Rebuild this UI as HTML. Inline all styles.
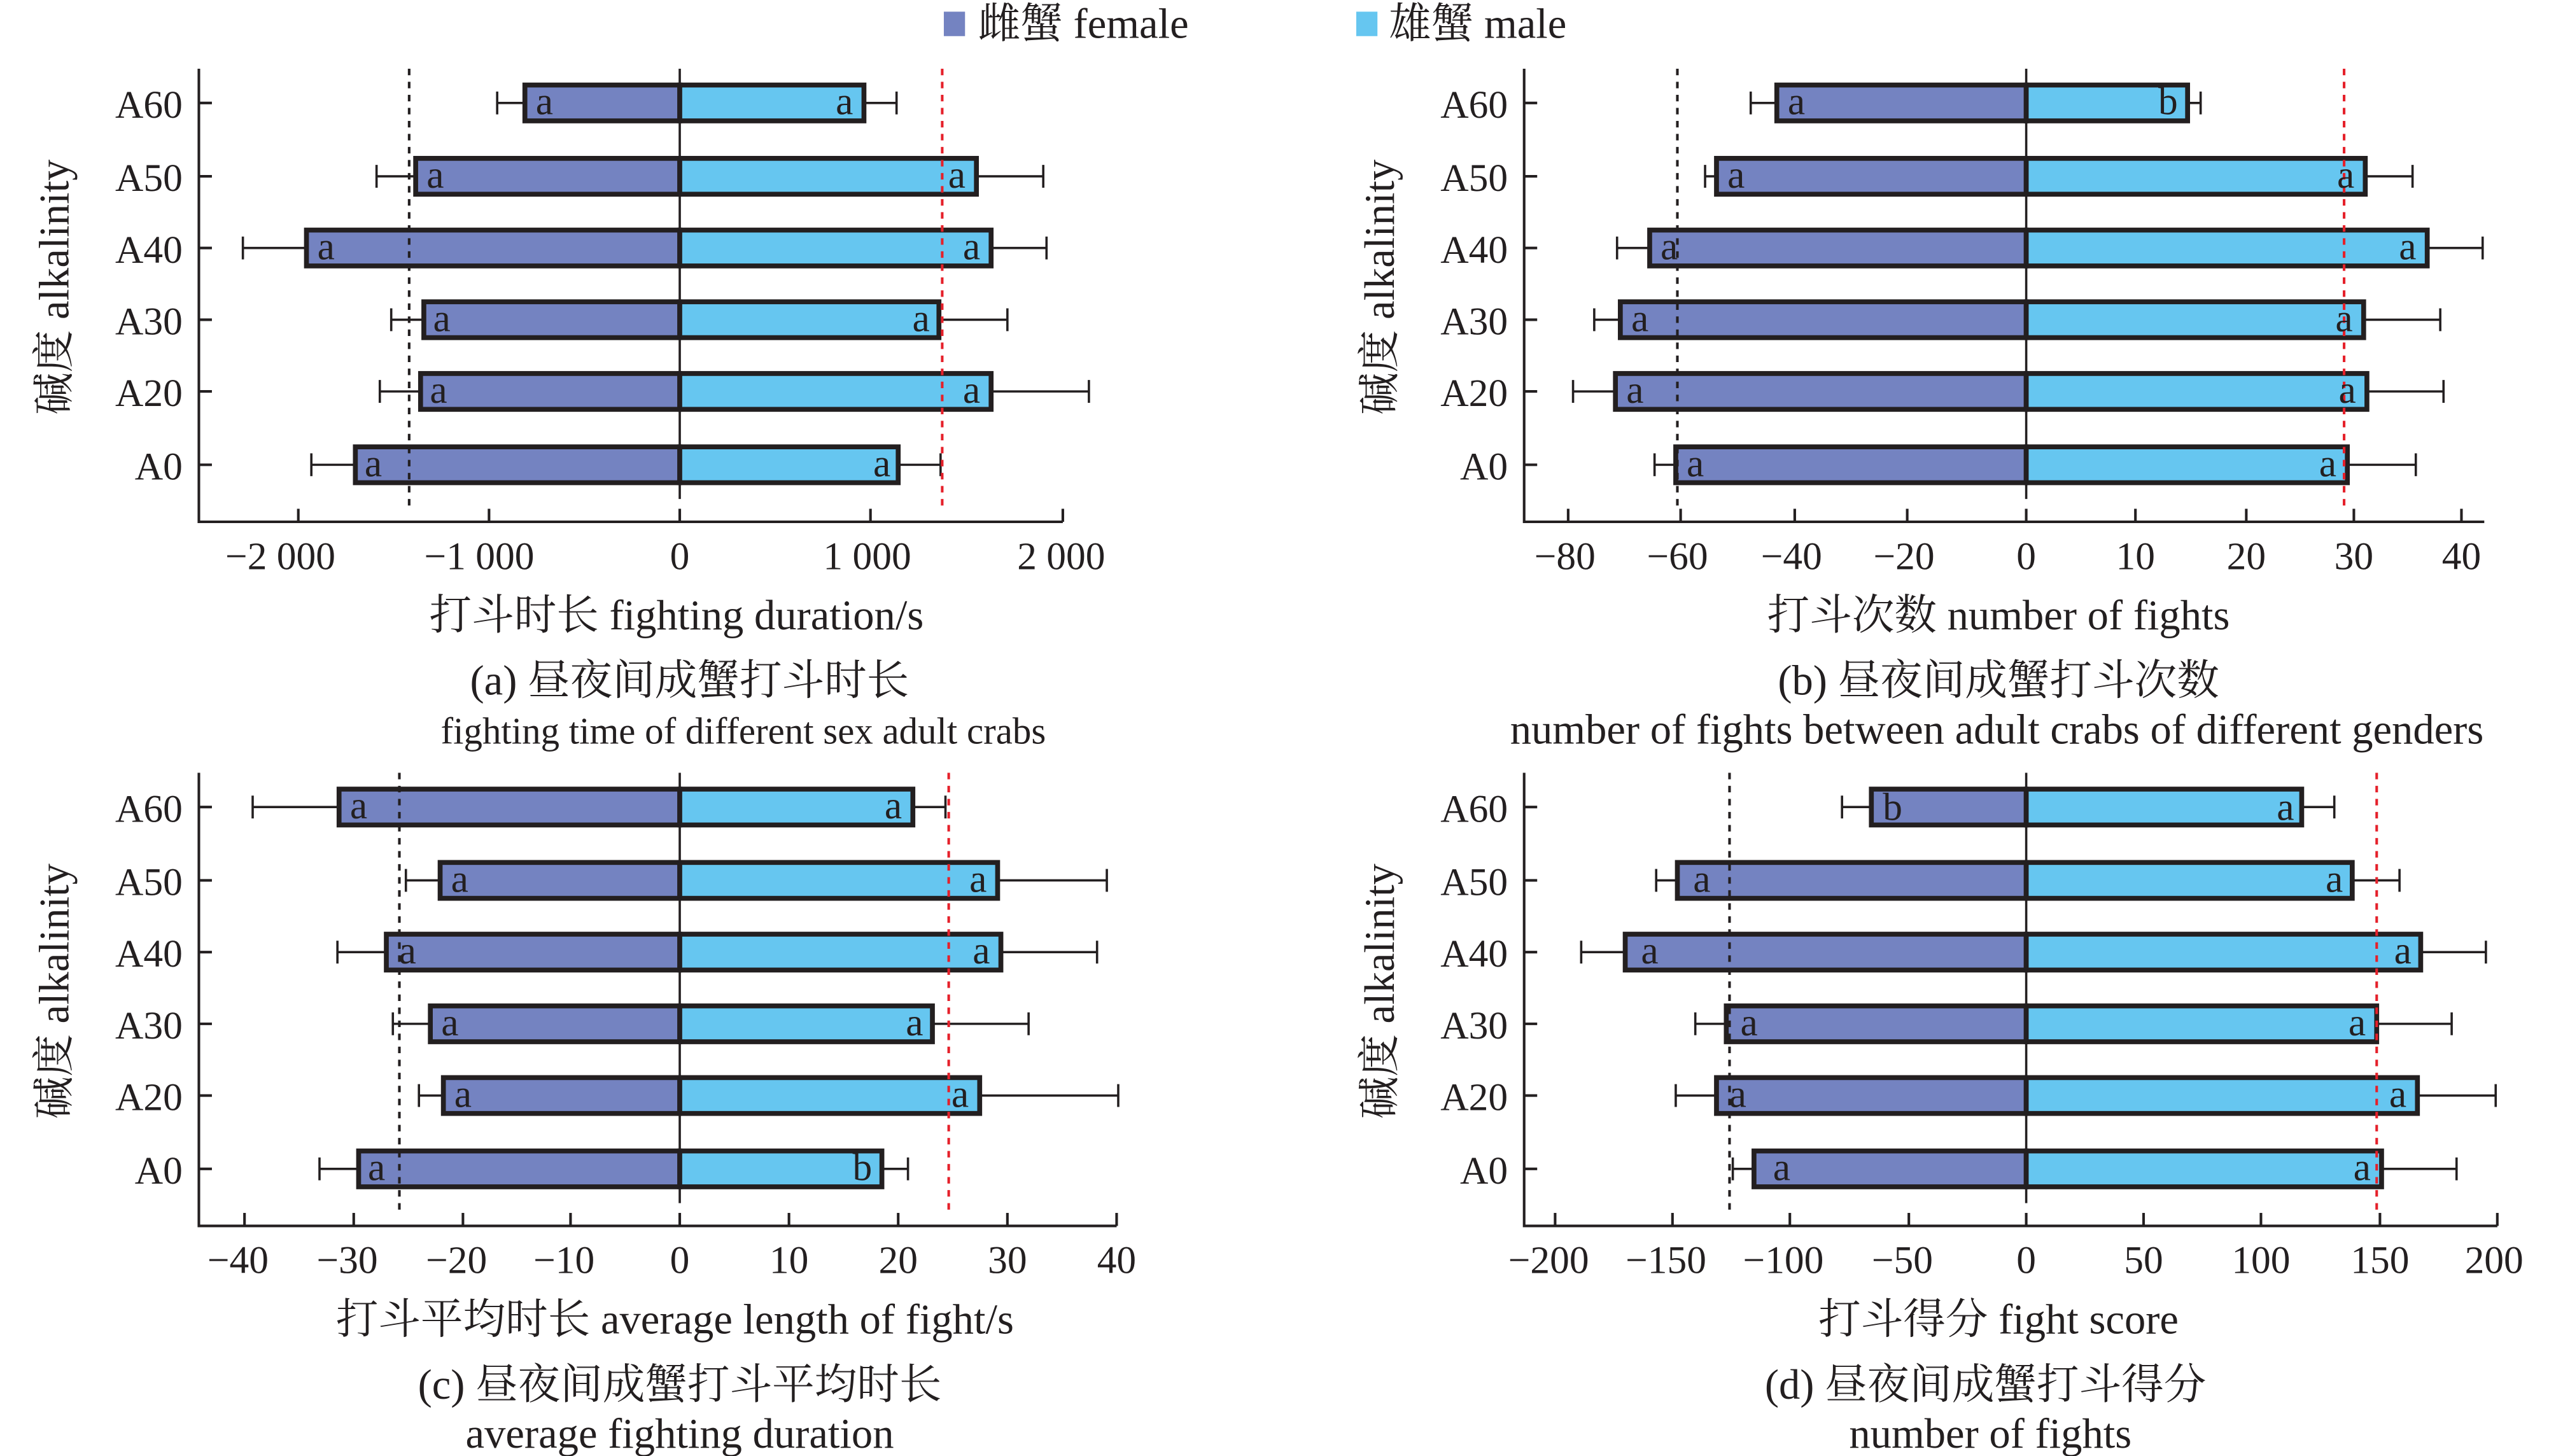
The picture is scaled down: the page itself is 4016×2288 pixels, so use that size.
<!DOCTYPE html>
<html><head><meta charset="utf-8"><style>
html,body{margin:0;padding:0;background:#fff;}
svg{display:block}
text{font-family:"Liberation Serif","Noto Serif CJK SC",serif;fill:#231f20}
.t{font-size:26px}
.n{font-size:24px}
.l{font-size:24px}
.f{fill:#7483c1;stroke:#231f20;stroke-width:3}
.m{fill:#66c6f0;stroke:#231f20;stroke-width:3}
.ax{stroke:#231f20;stroke-width:1.6;fill:none}
.e{stroke:#231f20;stroke-width:1.4;fill:none}
.bd{stroke:#231f20;stroke-width:1.6;stroke-dasharray:4,4}
.rd{stroke:#e5202a;stroke-width:1.6;stroke-dasharray:4,4}
</style></head><body>
<svg width="4016" height="2288" viewBox="0 0 1568 893" xmlns="http://www.w3.org/2000/svg">
<rect x="579" y="7" width="13" height="15" fill="#7483c1"/>
<text x="600" y="23" class="t">雌蟹 female</text>
<rect x="832" y="7" width="13" height="15" fill="#66c6f0"/>
<text x="852" y="23" class="t">雄蟹 male</text>

<!-- ===== Panel a ===== -->
<g>
<path class="ax" d="M122,42 V320 H652"/>
<path class="ax" d="M122,63 h8 M122,108 h8 M122,152 h8 M122,196 h8 M122,240 h8 M122,285 h8"/>
<path class="ax" d="M183,320 v-8 M300,320 v-8 M417,320 v-8 M534,320 v-8 M652,320 v-8"/>
<g class="n" text-anchor="end">
<text x="112" y="72">A60</text><text x="112" y="117">A50</text><text x="112" y="161">A40</text><text x="112" y="205">A30</text><text x="112" y="249">A20</text><text x="112" y="294">A0</text>
</g>
<g class="n" text-anchor="middle">
<text x="172" y="349">−2 000</text><text x="294" y="349">−1 000</text><text x="417" y="349">0</text><text x="532" y="349">1 000</text><text x="651" y="349">2 000</text>
</g>
<g class="e">
<path d="M305,63 H322 M305,56 v14 M530,63 H550 M550,56 v14"/>
<path d="M231,108 H255 M231,101 v14 M599,108 H640 M640,101 v14"/>
<path d="M149,152 H188 M149,145 v14 M608,152 H642 M642,145 v14"/>
<path d="M240,196 H260 M240,189 v14 M576,196 H618 M618,189 v14"/>
<path d="M233,240 H258 M233,233 v14 M608,240 H668 M668,233 v14"/>
<path d="M191,285 H218 M191,278 v14 M551,285 H577 M577,278 v14"/>
</g>
<rect class="f" x="322" y="52" width="95" height="22"/><rect class="m" x="417" y="52" width="113" height="22"/>
<rect class="f" x="255" y="97" width="162" height="22"/><rect class="m" x="417" y="97" width="182" height="22"/>
<rect class="f" x="188" y="141" width="229" height="22"/><rect class="m" x="417" y="141" width="191" height="22"/>
<rect class="f" x="260" y="185" width="157" height="22"/><rect class="m" x="417" y="185" width="159" height="22"/>
<rect class="f" x="258" y="229" width="159" height="22"/><rect class="m" x="417" y="229" width="191" height="22"/>
<rect class="f" x="218" y="274" width="199" height="22"/><rect class="m" x="417" y="274" width="134" height="22"/>
<line x1="417" y1="42" x2="417" y2="306" stroke="#231f20" stroke-width="1.4"/>
<line class="bd" x1="251" y1="42" x2="251" y2="312"/>
<line class="rd" x1="578" y1="42" x2="578" y2="312"/>
<g class="l" text-anchor="middle">
<text x="334" y="70">a</text><text x="518" y="70">a</text>
<text x="267" y="115">a</text><text x="587" y="115">a</text>
<text x="200" y="159">a</text><text x="596" y="159">a</text>
<text x="271" y="203">a</text><text x="565" y="203">a</text>
<text x="269" y="247">a</text><text x="596" y="247">a</text>
<text x="229" y="292">a</text><text x="541" y="292">a</text>
</g>
<text x="42" y="176" class="t" text-anchor="middle" transform="rotate(-90 42 176)">碱度 alkalinity</text>
<text x="415" y="386" class="t" text-anchor="middle">打斗时长 fighting duration/s</text>
<text x="423" y="426" class="t" text-anchor="middle">(a) 昼夜间成蟹打斗时长</text>
<text x="456" y="456" class="t" text-anchor="middle" style="font-size:23px">fighting time of different sex adult crabs</text>
</g>

<!-- ===== Panel b ===== -->
<g>
<path class="ax" d="M935,42 V320 H1524"/>
<path class="ax" d="M935,63 h8 M935,108 h8 M935,152 h8 M935,196 h8 M935,240 h8 M935,285 h8"/>
<path class="ax" d="M962,320 v-8 M1031,320 v-8 M1101,320 v-8 M1170,320 v-8 M1243,320 v-8 M1310,320 v-8 M1378,320 v-8 M1444,320 v-8 M1510,320 v-8"/>
<g class="n" text-anchor="end">
<text x="925" y="72">A60</text><text x="925" y="117">A50</text><text x="925" y="161">A40</text><text x="925" y="205">A30</text><text x="925" y="249">A20</text><text x="925" y="294">A0</text>
</g>
<g class="n" text-anchor="middle">
<text x="960" y="349">−80</text><text x="1029" y="349">−60</text><text x="1099" y="349">−40</text><text x="1168" y="349">−20</text><text x="1243" y="349">0</text><text x="1310" y="349">10</text><text x="1378" y="349">20</text><text x="1444" y="349">30</text><text x="1510" y="349">40</text>
</g>
<g class="e">
<path d="M1074,63 H1090 M1074,56 v14 M1342,63 H1350 M1350,56 v14"/>
<path d="M1046,108 H1053 M1046,101 v14 M1451,108 H1480 M1480,101 v14"/>
<path d="M992,152 H1012 M992,145 v14 M1489,152 H1523 M1523,145 v14"/>
<path d="M978,196 H994 M978,189 v14 M1450,196 H1497 M1497,189 v14"/>
<path d="M965,240 H991 M965,233 v14 M1452,240 H1499 M1499,233 v14"/>
<path d="M1015,285 H1028 M1015,278 v14 M1440,285 H1482 M1482,278 v14"/>
</g>
<rect class="f" x="1090" y="52" width="153" height="22"/><rect class="m" x="1243" y="52" width="99" height="22"/>
<rect class="f" x="1053" y="97" width="190" height="22"/><rect class="m" x="1243" y="97" width="208" height="22"/>
<rect class="f" x="1012" y="141" width="231" height="22"/><rect class="m" x="1243" y="141" width="246" height="22"/>
<rect class="f" x="994" y="185" width="249" height="22"/><rect class="m" x="1243" y="185" width="207" height="22"/>
<rect class="f" x="991" y="229" width="252" height="22"/><rect class="m" x="1243" y="229" width="209" height="22"/>
<rect class="f" x="1028" y="274" width="215" height="22"/><rect class="m" x="1243" y="274" width="197" height="22"/>
<line x1="1243" y1="42" x2="1243" y2="306" stroke="#231f20" stroke-width="1.4"/>
<line class="bd" x1="1029" y1="42" x2="1029" y2="312"/>
<line class="rd" x1="1438" y1="42" x2="1438" y2="312"/>
<g class="l" text-anchor="middle">
<text x="1102" y="70">a</text><text x="1330" y="70">b</text>
<text x="1065" y="115">a</text><text x="1439" y="115">a</text>
<text x="1024" y="159">a</text><text x="1477" y="159">a</text>
<text x="1006" y="203">a</text><text x="1438" y="203">a</text>
<text x="1003" y="247">a</text><text x="1440" y="247">a</text>
<text x="1040" y="292">a</text><text x="1428" y="292">a</text>
</g>
<text x="855" y="176" class="t" text-anchor="middle" transform="rotate(-90 855 176)">碱度 alkalinity</text>
<text x="1226" y="386" class="t" text-anchor="middle">打斗次数 number of fights</text>
<text x="1226" y="426" class="t" text-anchor="middle">(b) 昼夜间成蟹打斗次数</text>
<text x="1225" y="456" class="t" text-anchor="middle">number of fights between adult crabs of different genders</text>
</g>

<!-- ===== Panel c ===== -->
<g>
<path class="ax" d="M122,474 V752 H685"/>
<path class="ax" d="M122,495 h8 M122,540 h8 M122,584 h8 M122,628 h8 M122,672 h8 M122,717 h8"/>
<path class="ax" d="M150,752 v-8 M217,752 v-8 M284,752 v-8 M350,752 v-8 M417,752 v-8 M484,752 v-8 M551,752 v-8 M618,752 v-8 M685,752 v-8"/>
<g class="n" text-anchor="end">
<text x="112" y="504">A60</text><text x="112" y="549">A50</text><text x="112" y="593">A40</text><text x="112" y="637">A30</text><text x="112" y="681">A20</text><text x="112" y="726">A0</text>
</g>
<g class="n" text-anchor="middle">
<text x="146" y="781">−40</text><text x="213" y="781">−30</text><text x="280" y="781">−20</text><text x="346" y="781">−10</text><text x="417" y="781">0</text><text x="484" y="781">10</text><text x="551" y="781">20</text><text x="618" y="781">30</text><text x="685" y="781">40</text>
</g>
<g class="e">
<path d="M155,495 H208 M155,488 v14 M560,495 H580 M580,488 v14"/>
<path d="M249,540 H270 M249,533 v14 M612,540 H679 M679,533 v14"/>
<path d="M207,584 H237 M207,577 v14 M614,584 H673 M673,577 v14"/>
<path d="M241,628 H264 M241,621 v14 M572,628 H631 M631,621 v14"/>
<path d="M257,672 H272 M257,665 v14 M601,672 H686 M686,665 v14"/>
<path d="M196,717 H220 M196,710 v14 M541,717 H557 M557,710 v14"/>
</g>
<rect class="f" x="208" y="484" width="209" height="22"/><rect class="m" x="417" y="484" width="143" height="22"/>
<rect class="f" x="270" y="529" width="147" height="22"/><rect class="m" x="417" y="529" width="195" height="22"/>
<rect class="f" x="237" y="573" width="180" height="22"/><rect class="m" x="417" y="573" width="197" height="22"/>
<rect class="f" x="264" y="617" width="153" height="22"/><rect class="m" x="417" y="617" width="155" height="22"/>
<rect class="f" x="272" y="661" width="145" height="22"/><rect class="m" x="417" y="661" width="184" height="22"/>
<rect class="f" x="220" y="706" width="197" height="22"/><rect class="m" x="417" y="706" width="124" height="22"/>
<line x1="417" y1="474" x2="417" y2="738" stroke="#231f20" stroke-width="1.4"/>
<line class="bd" x1="245" y1="474" x2="245" y2="744"/>
<line class="rd" x1="582" y1="474" x2="582" y2="744"/>
<g class="l" text-anchor="middle">
<text x="220" y="502">a</text><text x="548" y="502">a</text>
<text x="282" y="547">a</text><text x="600" y="547">a</text>
<text x="250" y="591">a</text><text x="602" y="591">a</text>
<text x="276" y="635">a</text><text x="561" y="635">a</text>
<text x="284" y="679">a</text><text x="589" y="679">a</text>
<text x="231" y="724">a</text><text x="529" y="724">b</text>
</g>
<text x="42" y="608" class="t" text-anchor="middle" transform="rotate(-90 42 608)">碱度 alkalinity</text>
<text x="414" y="818" class="t" text-anchor="middle">打斗平均时长 average length of fight/s</text>
<text x="417" y="858" class="t" text-anchor="middle">(c) 昼夜间成蟹打斗平均时长</text>
<text x="417" y="888" class="t" text-anchor="middle">average fighting duration</text>
</g>

<!-- ===== Panel d ===== -->
<g>
<path class="ax" d="M935,474 V752 H1532"/>
<path class="ax" d="M935,495 h8 M935,540 h8 M935,584 h8 M935,628 h8 M935,672 h8 M935,717 h8"/>
<path class="ax" d="M954,752 v-8 M1026,752 v-8 M1098,752 v-8 M1171,752 v-8 M1243,752 v-8 M1315,752 v-8 M1387,752 v-8 M1460,752 v-8 M1532,752 v-8"/>
<g class="n" text-anchor="end">
<text x="925" y="504">A60</text><text x="925" y="549">A50</text><text x="925" y="593">A40</text><text x="925" y="637">A30</text><text x="925" y="681">A20</text><text x="925" y="726">A0</text>
</g>
<g class="n" text-anchor="middle">
<text x="950" y="781">−200</text><text x="1022" y="781">−150</text><text x="1094" y="781">−100</text><text x="1167" y="781">−50</text><text x="1243" y="781">0</text><text x="1315" y="781">50</text><text x="1387" y="781">100</text><text x="1460" y="781">150</text><text x="1530" y="781">200</text>
</g>
<g class="e">
<path d="M1130,495 H1148 M1130,488 v14 M1412,495 H1432 M1432,488 v14"/>
<path d="M1016,540 H1029 M1016,533 v14 M1443,540 H1472 M1472,533 v14"/>
<path d="M970,584 H997 M970,577 v14 M1485,584 H1525 M1525,577 v14"/>
<path d="M1040,628 H1059 M1040,621 v14 M1458,628 H1504 M1504,621 v14"/>
<path d="M1028,672 H1053 M1028,665 v14 M1483,672 H1531 M1531,665 v14"/>
<path d="M1063,717 H1076 M1063,710 v14 M1461,717 H1507 M1507,710 v14"/>
</g>
<rect class="f" x="1148" y="484" width="95" height="22"/><rect class="m" x="1243" y="484" width="169" height="22"/>
<rect class="f" x="1029" y="529" width="214" height="22"/><rect class="m" x="1243" y="529" width="200" height="22"/>
<rect class="f" x="997" y="573" width="246" height="22"/><rect class="m" x="1243" y="573" width="242" height="22"/>
<rect class="f" x="1059" y="617" width="184" height="22"/><rect class="m" x="1243" y="617" width="215" height="22"/>
<rect class="f" x="1053" y="661" width="190" height="22"/><rect class="m" x="1243" y="661" width="240" height="22"/>
<rect class="f" x="1076" y="706" width="167" height="22"/><rect class="m" x="1243" y="706" width="218" height="22"/>
<line x1="1243" y1="474" x2="1243" y2="738" stroke="#231f20" stroke-width="1.4"/>
<line class="bd" x1="1061" y1="474" x2="1061" y2="744"/>
<line class="rd" x1="1458" y1="474" x2="1458" y2="744"/>
<g class="l" text-anchor="middle">
<text x="1161" y="503">b</text><text x="1402" y="503">a</text>
<text x="1044" y="547">a</text><text x="1432" y="547">a</text>
<text x="1012" y="591">a</text><text x="1474" y="591">a</text>
<text x="1073" y="635">a</text><text x="1446" y="635">a</text>
<text x="1066" y="679">a</text><text x="1471" y="679">a</text>
<text x="1093" y="724">a</text><text x="1449" y="724">a</text>
</g>
<text x="855" y="608" class="t" text-anchor="middle" transform="rotate(-90 855 608)">碱度 alkalinity</text>
<text x="1226" y="818" class="t" text-anchor="middle">打斗得分 fight score</text>
<text x="1218" y="858" class="t" text-anchor="middle">(d) 昼夜间成蟹打斗得分</text>
<text x="1221" y="888" class="t" text-anchor="middle">number of fights</text>
</g>
</svg>
</body></html>
